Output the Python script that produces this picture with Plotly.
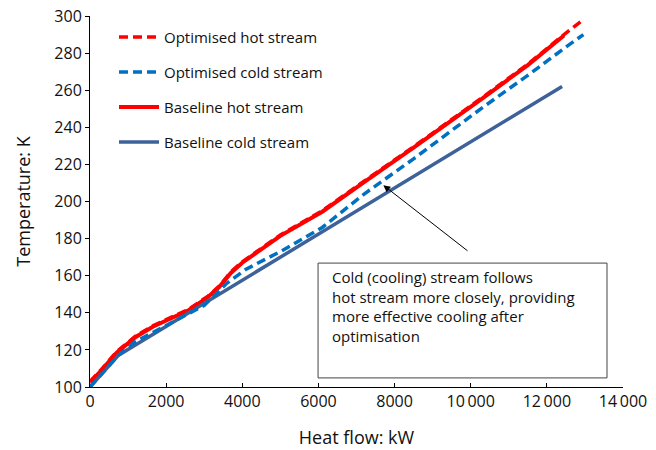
import plotly.graph_objects as go

# Heat flow (kW) and temperature (K) for each stream
hot_base_q = [0, 300, 700, 1200, 1650, 2200, 2600, 3100, 3400, 3700, 4000,
              5000, 6100, 7200, 8500, 10300, 11500, 12450]
hot_base_t = [102.5, 109, 118.5, 127, 132.5, 138, 141.5, 148.5, 154, 161.5, 167,
              181.5, 194.5, 210.5, 229, 255.5, 273.5, 289.5]

hot_opt_q = [0, 300, 700, 1200, 1650, 2200, 2600, 3100, 3400, 3700, 4000,
             5000, 6100, 7200, 8500, 10300, 11500, 12450, 12960]
hot_opt_t = [103, 109.5, 119, 127.5, 133, 138.5, 142, 149, 154.5, 162, 167.5,
             182, 195, 211, 229.5, 256, 274, 290, 298]

cold_opt_q = [0, 300, 740, 1200, 2000, 2600, 3000, 3600, 4100, 5000, 6100,
              7200, 8500, 10300, 11500, 12450, 12960]
cold_opt_t = [100, 107, 117, 124.5, 133, 139.5, 144, 156, 163.5, 173, 186,
              204, 223, 250.5, 268, 282.5, 290]

cold_base_q = [0, 740, 12400]
cold_base_t = [100, 117, 262]

x_ticks = [0, 2000, 4000, 6000, 8000, 10000, 12000, 14000]
x_tick_text = ["0", "2000", "4000", "6000", "8000", "10\u2009000", "12\u2009000", "14\u2009000"]
y_ticks = [100, 120, 140, 160, 180, 200, 220, 240, 260, 280, 300]

RED = "#FF0000"
BLUE_DASH = "#0070C0"
BLUE_SOLID = "#3D6199"
FONT = "Open Sans"

fig = go.Figure()

fig.add_trace(go.Scatter(
    x=hot_base_q, y=hot_base_t, mode="lines", name="Baseline hot stream",
    line=dict(color=RED, width=4), legendrank=3, legendgroup="c"))
fig.add_trace(go.Scatter(
    x=cold_base_q, y=cold_base_t, mode="lines", name="Baseline cold stream",
    line=dict(color=BLUE_SOLID, width=3.5), legendrank=4, legendgroup="d"))
fig.add_trace(go.Scatter(
    x=cold_opt_q, y=cold_opt_t, mode="lines", name="Optimised cold stream",
    line=dict(color=BLUE_DASH, width=3.5, dash="9px,5px"), legendrank=2, legendgroup="b"))
fig.add_trace(go.Scatter(
    x=hot_opt_q, y=hot_opt_t, mode="lines", name="Optimised hot stream",
    line=dict(color=RED, width=3.5, dash="9px,5px"), legendrank=1, legendgroup="a"))

# Callout box and arrow
fig.add_shape(type="rect", xref="x", yref="y", x0=5990, x1=13580, y0=104.9, y1=166.8,
              line=dict(color="#444444", width=1), fillcolor="white", layer="above")
fig.add_annotation(
    xref="x", yref="y", x=6300, y=165.6, xanchor="left", yanchor="top", align="left",
    text="Cold (cooling) stream follows<br>hot stream more closely, providing<br>"
         "more effective cooling after<br>optimisation",
    showarrow=False, font=dict(family=FONT, size=15, color="#111111"))
fig.add_annotation(
    xref="x", yref="y", axref="x", ayref="y", x=7704, y=208.8, ax=9955, ay=172.8,
    text="", showarrow=True, arrowhead=2, arrowsize=1.4, arrowwidth=1, arrowcolor="black")

fig.update_layout(
    width=656, height=450,
    margin=dict(l=90, r=33, t=16, b=63),
    plot_bgcolor="white", paper_bgcolor="white",
    font=dict(family=FONT, size=16, color="#111111"),
    showlegend=True,
    legend=dict(x=0.045, y=0.987, xanchor="left", yanchor="top",
                bgcolor="rgba(0,0,0,0)", tracegroupgap=12.5, itemwidth=40,
                font=dict(family=FONT, size=15, color="#111111"),
                traceorder="grouped"),
    xaxis=dict(range=[0, 14000], tickvals=x_ticks, ticktext=x_tick_text,
               showgrid=False, zeroline=False, showline=True, linecolor="black",
               linewidth=1, ticks="inside", ticklen=4, tickcolor="black",
               automargin=False,
               title=dict(text="Heat flow: kW", font=dict(size=18), standoff=20)),
    yaxis=dict(range=[100, 300], tickvals=y_ticks,
               showgrid=False, zeroline=False, showline=True, linecolor="black",
               linewidth=1, ticks="outside", ticklen=4, tickcolor="black",
               automargin=False,
               title=dict(text="Temperature: K", font=dict(size=18), standoff=19)),
)

fig.write_html("out.html")
